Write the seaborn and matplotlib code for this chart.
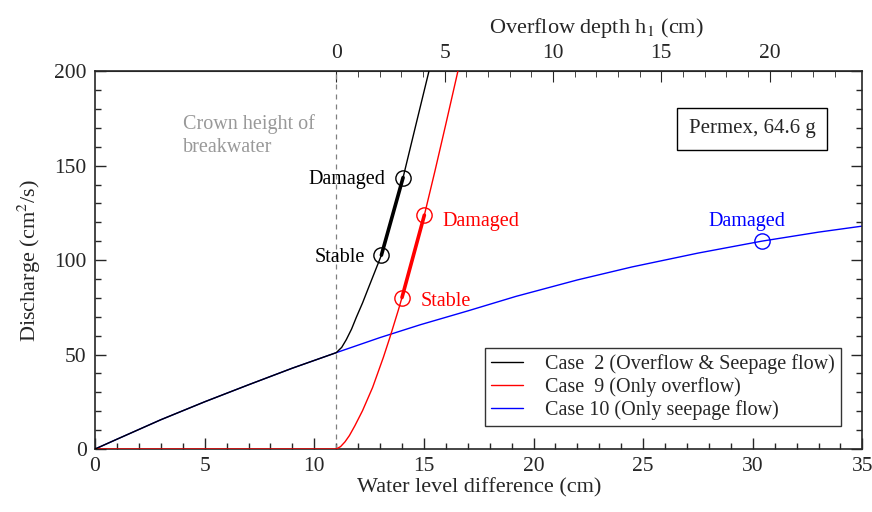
import numpy as np
import pandas as pd
import matplotlib
matplotlib.use("Agg")
import matplotlib.pyplot as plt
import seaborn as sns
from matplotlib.ticker import MultipleLocator, FixedLocator

# curves
case10_x = [0, 1, 3, 5, 7, 9, 11, 13, 14.84, 17, 19.2, 22, 24.5, 27.5, 30.4, 33, 35]
case10_y = [0, 5.2, 15.5, 25, 34, 42.8, 51, 59, 65.8, 73.1, 80.8, 89.5, 96.4, 103.7, 110, 114.8, 118]

case2_x = [0, 1, 3, 5, 7, 9, 11, 11.25, 11.46, 11.7, 11.92, 12.2, 12.46, 12.75, 13.06, 13.5, 14.05, 14.6, 15.23]
case2_y = [0, 5.2, 15.5, 25, 34, 42.8, 51, 53.8, 57.9, 63.5, 69.8, 77.3, 85, 93.5, 102.6, 120.5, 143.7, 170, 200]

case9_x = [0, 11, 11.2, 11.4, 11.6, 11.85, 12.2, 12.66, 13.15, 13.46, 13.84, 14.0, 14.5, 15.02, 15.5, 16.0, 16.55]
case9_y = [0, 0, 1.3, 3.8, 7.1, 12.3, 20.3, 32.6, 48.5, 59.5, 73.8, 80.2, 100.9, 123.8, 147, 172, 200]

labels = ['Case  2 (Overflow & Seepage flow)', 'Case  9 (Only overflow)', 'Case 10 (Only seepage flow)']
colors = ['black', 'red', 'blue']

# stable / damaged points
c2_stable, c2_damaged = (13.06, 102.6), (14.05, 143.7)
c9_stable, c9_damaged = (14.0, 80.2), (15.02, 123.8)
c10_damaged = (30.4, 110)

crown_x = 11
h_scale = 0.9886  # top axis spacing vs bottom
h_ticks = [0, 5, 10, 15, 20]

sns.set_style("ticks")
plt.rcParams['font.family'] = ['Liberation Serif', 'DejaVu Serif']
plt.rcParams['mathtext.fontset'] = 'stix'

fig = plt.figure(figsize=(8.72, 5.12), dpi=100)
ax = fig.add_axes([0.109, 0.123, 0.880, 0.738])

df = pd.concat([
    pd.DataFrame({'x': case2_x, 'y': case2_y, 'case': labels[0]}),
    pd.DataFrame({'x': case9_x, 'y': case9_y, 'case': labels[1]}),
    pd.DataFrame({'x': case10_x, 'y': case10_y, 'case': labels[2]}),
])
pal = dict(zip(labels, colors))

ax.axvline(crown_x, color='gray', ls='--', lw=0.9, dashes=(4, 4), zorder=1)

# blue and red first, black on top
for name, z in [(labels[2], 2), (labels[1], 3), (labels[0], 4)]:
    sub = df[df['case'] == name]
    sns.lineplot(data=sub, x='x', y='y', color=pal[name], lw=1.0, ax=ax,
                 label=name, sort=False, estimator=None, zorder=z)

# thick stable-to-damaged segments
ax.plot([c2_stable[0], c2_damaged[0]], [c2_stable[1], c2_damaged[1]], color='black', lw=2.6, zorder=5)
ax.plot([c9_stable[0], c9_damaged[0]], [c9_stable[1], c9_damaged[1]], color='red', lw=2.6, zorder=5)

for pt, col in [(c2_stable, 'black'), (c2_damaged, 'black'), (c9_stable, 'red'),
                (c9_damaged, 'red'), (c10_damaged, 'blue')]:
    ax.plot(*pt, marker='o', ms=11, mfc='none', mec=col, mew=1.0, zorder=6)

fs = 14.5
ax.text(13.22, 142.5, 'Damaged', ha='right', va='center', fontsize=fs, color='black')
ax.text(12.33, 101.5, 'Stable', ha='right', va='center', fontsize=fs, color='black')
ax.text(15.86, 120.5, 'Damaged', ha='left', va='center', fontsize=fs, color='red')
ax.text(14.85, 78, 'Stable', ha='left', va='center', fontsize=fs, color='red')
ax.text(29.73, 120.5, 'Damaged', ha='center', va='center', fontsize=fs, color='blue')
ax.text(4.0, 177.5, 'Crown height of\nbreakwater', ha='left', va='top', fontsize=fs,
        color='#999999', linespacing=1.3)
ax.text(29.96, 169.5, 'Permex, 64.6 g', ha='center', va='center', fontsize=15,
        bbox=dict(boxstyle='square,pad=0.55', fc='white', ec='black', lw=1.0))

ax.set_xlim(0, 35)
ax.set_ylim(0, 200)
ax.xaxis.set_major_locator(MultipleLocator(5))
ax.xaxis.set_minor_locator(MultipleLocator(1))
ax.yaxis.set_major_locator(MultipleLocator(50))
ax.yaxis.set_minor_locator(MultipleLocator(10))
ax.tick_params(which='both', direction='in', right=True, top=False, labelsize=15.5)
ax.tick_params(which='major', length=8, width=1.0, pad=6)
ax.tick_params(which='minor', length=4, width=1.0)
ax.set_xlabel('Water level difference (cm)', fontsize=16, labelpad=1)
ax.set_ylabel('Discharge (cm$^2$/s)', fontsize=16, labelpad=8)
for s in ax.spines.values():
    s.set_linewidth(1.2)

top = ax.secondary_xaxis('top', functions=(lambda x: (x - crown_x) / h_scale,
                                           lambda h: crown_x + h * h_scale))
top.xaxis.set_major_locator(FixedLocator(h_ticks))
top.xaxis.set_minor_locator(FixedLocator(range(0, 24)))
top.tick_params(which='both', direction='in', labelsize=15.5)
top.tick_params(which='major', length=8, pad=6)
top.tick_params(which='minor', length=4)
top.set_xlabel('Overflow depth h$_1$ (cm)', fontsize=16, labelpad=8, x=0.653)

handles, labs = ax.get_legend_handles_labels()
order = [labs.index(l) for l in labels]
leg = ax.legend([handles[i] for i in order], [labs[i] for i in order],
                loc='lower right', bbox_to_anchor=(0.972, 0.062), fontsize=fs,
                frameon=True, fancybox=False, edgecolor='black', handlelength=1.6,
                handletextpad=1.1, borderpad=0.3, labelspacing=0.15, borderaxespad=0)
leg.get_frame().set_linewidth(1.0)

fig.savefig('out.png', dpi=100)
